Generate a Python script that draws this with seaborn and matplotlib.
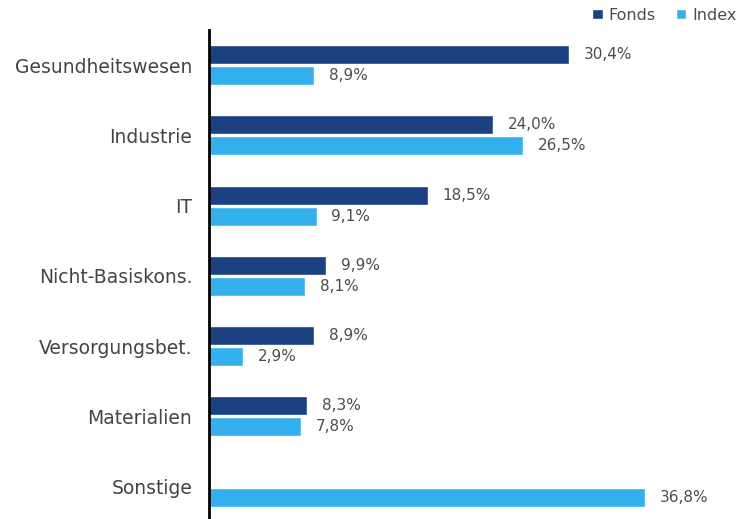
import numpy as np
import pandas as pd
import matplotlib
matplotlib.use("Agg")
import matplotlib.pyplot as plt
import seaborn as sns
from matplotlib.patches import Patch

categories = ["Gesundheitswesen", "Industrie", "IT", "Nicht-Basiskons.",
              "Versorgungsbet.", "Materialien", "Sonstige"]
fonds = [30.4, 24.0, 18.5, 9.9, 8.9, 8.3, np.nan]
index = [8.9, 26.5, 9.1, 8.1, 2.9, 7.8, 36.8]
series = ["Fonds", "Index"]
colors = ["#1b4183", "#35b0ef"]

df = pd.DataFrame({
    "Sektor": categories * 2,
    "Serie": [series[0]] * len(categories) + [series[1]] * len(categories),
    "Wert": fonds + index,
})

sns.set_style("white")
plt.rcParams["font.family"] = ["DejaVu Sans"]

W, H = 749, 519
fig = plt.figure(figsize=(W / 100, H / 100), dpi=100)
ax = fig.add_axes([209 / W, 0, 1 - 209 / W, 1 - 30 / H])

sns.barplot(data=df, y="Sektor", x="Wert", hue="Serie", order=categories,
            hue_order=series, palette=colors, orient="h", width=0.6, gap=0.1,
            saturation=1, legend=False, ax=ax, errorbar=None)

ax.set_xlim(0, 45.6)
ax.set_ylim(6.46, -0.5)
ax.set_xlabel("")
ax.set_ylabel("")
ax.set_xticks([])
for s in ["top", "right", "bottom"]:
    ax.spines[s].set_visible(False)
ax.spines["left"].set_color("black")
ax.spines["left"].set_linewidth(2)
ax.tick_params(axis="y", length=0, pad=12, labelsize=13.5, labelcolor="#444444")

for cont in ax.containers:
    for bar in cont:
        w = bar.get_width()
        if np.isnan(w) or w == 0:
            continue
        ax.annotate(f"{w:.1f}%".replace(".", ","),
                    (w, bar.get_y() + bar.get_height() / 2),
                    xytext=(10.5, 0), textcoords="offset points",
                    va="center", ha="left", fontsize=11, color="#4d4d4d")

handles = [Patch(facecolor=c, label=l) for c, l in zip(colors, series)]
fig.legend(handles=handles, loc="upper right", bbox_to_anchor=(0.996, 1.004),
           ncol=2, frameon=False, fontsize=11.5, handlelength=0.65,
           handleheight=0.65, handletextpad=0.35, columnspacing=1.3,
           labelcolor="#4d4d4d", borderaxespad=0.2)

fig.savefig("out.png", dpi=100)
